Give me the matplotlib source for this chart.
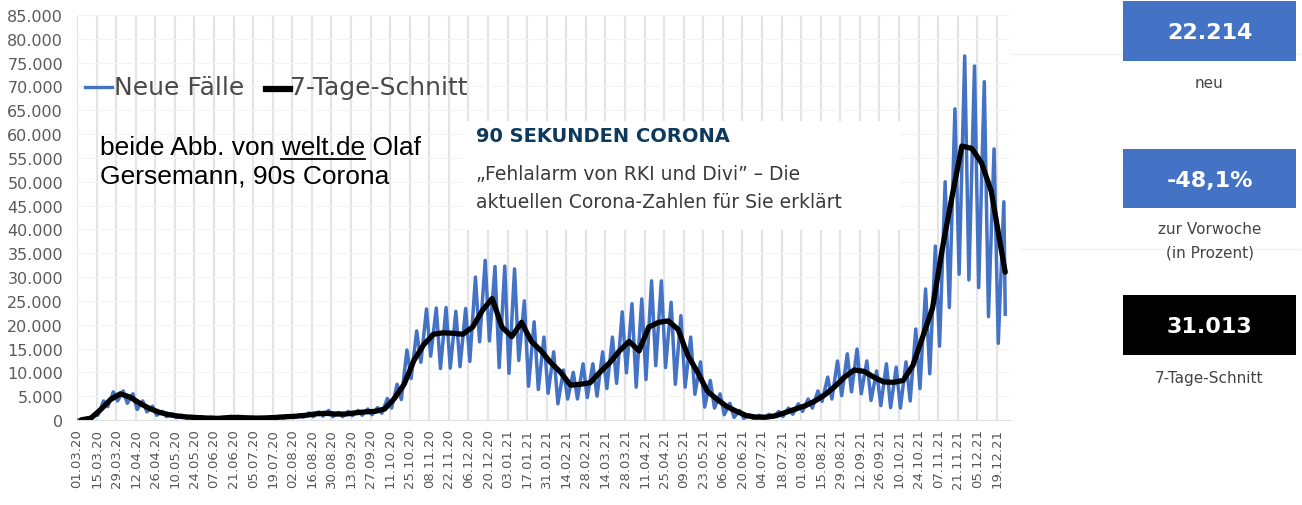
import matplotlib
matplotlib.use("Agg")
import matplotlib.pyplot as plt
from matplotlib.ticker import FuncFormatter, FixedLocator, MultipleLocator
from matplotlib.lines import Line2D
from matplotlib.patches import Rectangle

# ---------------- data ----------------
tick_labels = ["01.03.20", "15.03.20", "29.03.20", "12.04.20", "26.04.20", "10.05.20",
               "24.05.20", "07.06.20", "21.06.20", "05.07.20", "19.07.20", "02.08.20",
               "16.08.20", "30.08.20", "13.09.20", "27.09.20", "11.10.20", "25.10.20",
               "08.11.20", "22.11.20", "06.12.20", "20.12.20", "03.01.21", "17.01.21",
               "31.01.21", "14.02.21", "28.02.21", "14.03.21", "28.03.21", "11.04.21",
               "25.04.21", "09.05.21", "23.05.21", "06.06.21", "20.06.21", "04.07.21",
               "18.07.21", "01.08.21", "15.08.21", "29.08.21", "12.09.21", "26.09.21",
               "10.10.21", "24.10.21", "07.11.21", "21.11.21", "05.12.21", "19.12.21"]

# one value per week (weeks start on Sunday 01.03.20)
weekly_peak = [200, 1000, 4000, 5900, 6100, 5500, 4000, 2900, 1800, 1300,
               1000, 800, 700, 600, 500, 800, 700, 550, 500, 600,
               800, 900, 1100, 1500, 1700, 2000, 1600, 1800, 2000, 2300,
               2600, 4500, 7500, 14700, 18700, 23300, 23500, 23600, 22800, 23400,
               30000, 33500, 32200, 32300, 31700, 25000, 20600, 17400, 14300, 10500,
               10000, 11800, 11800, 14300, 17400, 22700, 24400, 25400, 29200, 29200,
               24700, 21900, 17400, 12200, 8300, 5500, 3500, 2000, 1100, 1000,
               1200, 1800, 2500, 3400, 4400, 6100, 9000, 12400, 13900, 14900,
               12400, 10300, 11800, 11100, 12200, 19100, 27500, 36500, 50000, 65300,
               76400, 74300, 71000, 56900, 45800]

weekly_trough = [0, 100, 1000, 2800, 4000, 3500, 2200, 1700, 1000, 700,
                 500, 400, 300, 200, 200, 300, 300, 250, 250, 300,
                 300, 400, 500, 600, 700, 800, 700, 700, 900, 1000,
                 1100, 1400, 2500, 4300, 8700, 12100, 13400, 10800, 10900, 11200,
                 12300, 16400, 16600, 11000, 9800, 12500, 7100, 6400, 5600, 3400,
                 4400, 4400, 4700, 5000, 6600, 7700, 9900, 6900, 8500, 11400,
                 11000, 7500, 6900, 5400, 2700, 2500, 1100, 550, 350, 220,
                 210, 550, 750, 1200, 1800, 2500, 3900, 4400, 5100, 5900,
                 5500, 4100, 3000, 2600, 2500, 4000, 6600, 9700, 15500, 23600,
                 30600, 29400, 27800, 21700, 16100]

weekly_avg = [30, 400, 2200, 4300, 5500, 4800, 3500, 2400, 1600, 1100,
              800, 600, 500, 400, 350, 500, 550, 450, 400, 450,
              550, 700, 800, 1000, 1300, 1400, 1250, 1250, 1500, 1700,
              1800, 2300, 4500, 7500, 12500, 15800, 18000, 18300, 18200, 18000,
              19500, 23000, 25500, 19500, 17500, 20500, 16500, 14500, 12000, 10000,
              7300, 7500, 7800, 10000, 12000, 14500, 16500, 14500, 19500, 20500,
              20800, 19000, 13500, 10000, 6000, 4300, 2800, 1800, 900, 600,
              600, 900, 1600, 2300, 3000, 4000, 5300, 7000, 9000, 10500,
              10200, 9000, 8000, 7900, 8300, 11500, 17500, 23500, 36000, 47000,
              57500, 57000, 54000, 48000, 36000]

latest_new = 22214
latest_avg = 31013
change_label = "-48,1%"

# ---------------- build line series ----------------
n_weeks = len(weekly_peak)
blue_x, blue_y = [], []
for w in range(n_weeks):
    blue_x += [7 * w + 1, 7 * w + 5]
    blue_y += [weekly_trough[w], weekly_peak[w]]
last_day = 7 * (n_weeks - 1) + 6
blue_x.append(last_day)
blue_y.append(latest_new)

avg_x = [7 * w + 3 for w in range(n_weeks)] + [last_day]
avg_y = list(weekly_avg) + [latest_avg]

tick_pos = [14 * i for i in range(len(tick_labels))]

# ---------------- figure ----------------
W, H = 1302, 506
fig = plt.figure(figsize=(W / 100, H / 100), dpi=100)
fig.patch.set_facecolor("white")

def fx(px):
    return px / W

def fy(py):
    return 1 - py / H

ax = fig.add_axes([fx(77), fy(421), fx(1010) - fx(77), fy(16) - fy(421)])
ax.set_xlim(0, 667.4)
ax.set_ylim(0, 85000)

BLUE = "#4472C4"
ax.plot(blue_x, blue_y, color=BLUE, lw=2.5, solid_joinstyle="round", zorder=3)
ax.plot(avg_x, avg_y, color="black", lw=3.8, solid_joinstyle="round",
        solid_capstyle="round", zorder=4)

ax.xaxis.set_major_locator(FixedLocator(tick_pos))
ax.set_xticklabels(tick_labels, rotation=90, fontsize=9.5, color="#555555")
ax.yaxis.set_major_locator(MultipleLocator(5000))
ax.yaxis.set_major_formatter(FuncFormatter(lambda v, p: f"{int(v):,}".replace(",", ".")))
ax.tick_params(axis="y", labelsize=11.5, colors="#5a5a5a", length=0, pad=10)
ax.tick_params(axis="x", length=0, pad=6)
ax.grid(axis="x", color="#e4e4e4", lw=1.6)
ax.grid(axis="y", color="#f4f4f4", lw=0.8)
ax.set_axisbelow(True)
for s in ["top", "right", "left"]:
    ax.spines[s].set_visible(False)
ax.spines["bottom"].set_color("#e0e0e0")

# ---------------- legend (drawn manually) ----------------
fig.add_artist(Line2D([fx(85), fx(112)], [fy(88), fy(88)], transform=fig.transFigure,
                      color=BLUE, lw=2.4))
fig.text(fx(114), fy(88), "Neue Fälle", fontsize=18, color="#4a4a4a", va="center", ha="left")
fig.add_artist(Line2D([fx(266), fx(290)], [fy(90), fy(90)], transform=fig.transFigure,
                      color="black", lw=4.5))
fig.text(fx(290), fy(88), "7-Tage-Schnitt", fontsize=18, color="#4a4a4a", va="center", ha="left")

# ---------------- source annotation ----------------
src_font = dict(family="Liberation Sans", fontsize=19, color="black", va="center", ha="left")
fig.text(fx(100), fy(148), "beide Abb. von welt.de Olaf", **src_font)
fig.text(fx(100), fy(177), "Gersemann, 90s Corona", **src_font)
fig.canvas.draw()
r = fig.canvas.get_renderer()
tmp = fig.text(fx(100), fy(148), "beide Abb. von ", **src_font)
x0 = tmp.get_window_extent(r).x1
tmp.remove()
tmp = fig.text(fx(100), fy(148), "beide Abb. von welt.de", **src_font)
x1 = tmp.get_window_extent(r).x1
tmp.remove()
fig.add_artist(Line2D([(x0 - 0.5) / W, x1 / W], [fy(160), fy(160)], transform=fig.transFigure,
                      color="black", lw=1.3))

# ---------------- article box ----------------
fig.add_artist(Rectangle((fx(465), fy(231)), fx(900) - fx(465), fy(122) - fy(231),
                         transform=fig.transFigure, facecolor="white", edgecolor="none",
                         zorder=5))
fig.text(fx(476), fy(137), "90 SEKUNDEN CORONA", fontsize=14, fontweight="bold",
         color="#0d3a5c", va="center", ha="left", zorder=6)
fig.text(fx(476), fy(175), "\u201eFehlalarm von RKI und Divi\u201d \u2013 Die", fontsize=13.5,
         color="#3a3a3a", va="center", ha="left", zorder=6)
fig.text(fx(476), fy(203), "aktuellen Corona-Zahlen für Sie erklärt", fontsize=13.5,
         color="#3a3a3a", va="center", ha="left", zorder=6)

# ---------------- right-hand panel ----------------
fig.add_artist(Line2D([fx(1010), fx(1300)], [fy(55), fy(55)], transform=fig.transFigure,
                      color="#f2f2f2", lw=1, zorder=1))
fig.add_artist(Line2D([fx(1020), fx(1300)], [fy(250), fy(250)], transform=fig.transFigure,
                      color="#f2f2f2", lw=1, zorder=1))

def stat_box(y_top, y_bot, color, label):
    fig.add_artist(Rectangle((fx(1123), fy(y_bot)), fx(1296) - fx(1123), fy(y_top) - fy(y_bot),
                             transform=fig.transFigure, facecolor=color, edgecolor="none",
                             zorder=2))
    fig.text(fx(1209.5), fy((y_top + y_bot) / 2 + 1), label, fontsize=16, fontweight="bold",
             color="white", va="center", ha="center", zorder=3)

stat_box(2, 62, BLUE, f"{latest_new:,}".replace(",", "."))
fig.text(fx(1209.5), fy(84), "neu", fontsize=11, color="#444444", va="center", ha="center")
stat_box(150, 209, BLUE, change_label)
fig.text(fx(1209.5), fy(230), "zur Vorwoche", fontsize=11, color="#444444", va="center", ha="center")
fig.text(fx(1209.5), fy(253), "(in Prozent)", fontsize=11, color="#444444", va="center", ha="center")
stat_box(296, 356, "black", f"{latest_avg:,}".replace(",", "."))
fig.text(fx(1209.5), fy(378), "7-Tage-Schnitt", fontsize=11, color="#444444", va="center", ha="center")

fig.savefig("out.png", dpi=100, facecolor="white")
